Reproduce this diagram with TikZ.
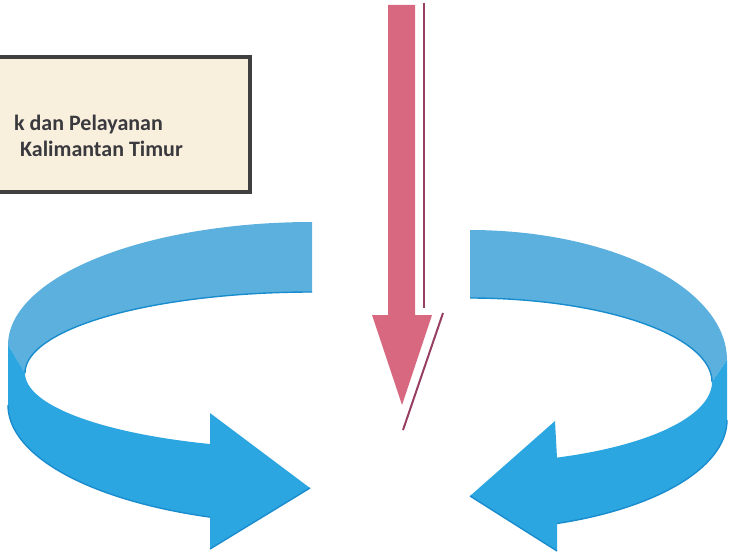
\documentclass[tikz,border=0pt]{standalone}
\usepackage{fontspec}
\setmainfont{Carlito}
\begin{document}
\begin{tikzpicture}[x=1pt,y=-1pt,
  boxstyle/.style={draw={rgb,255:red,64;green,64;blue,64},line width=3.5pt,fill={rgb,255:red,248;green,239;blue,221},minimum width=262pt,minimum height=135pt,inner sep=0pt},
  boxtext/.style={font=\fontsize{22}{24}\selectfont\bfseries,text={rgb,255:red,58;green,58;blue,62},inner sep=0pt},
  pinkfill/.style={fill={rgb,255:red,215;green,104;blue,128}},
  pinkline/.style={draw={rgb,255:red,150;green,62;blue,100},line width=1.6pt},
  backband/.style={fill={rgb,255:red,92;green,176;blue,222}},
  frontband/.style={fill={rgb,255:red,44;green,166;blue,224}},
  rimline/.style={draw={rgb,255:red,25;green,140;blue,205},line width=1.4pt}
]
\useasboundingbox (0,0) rectangle (730,553);
\clip (0,0) rectangle (730,553);

% text box
\node[boxstyle] (box) at (119,124.5) {};
\node[boxtext,anchor=base east] (line1) at (163,131) {k dan Pelayanan};
\node[boxtext,anchor=base east] (line2) at (183,157) {Kalimantan Timur};

% red downward arrow
\fill[pinkfill] (388,5) -- (415,5) -- (415,315) -- (432,315) -- (402,405) -- (372,315) -- (388,315) -- cycle;
\coordinate (thinA) at (424,3);
\coordinate (thinB) at (424,308);
\coordinate (diagA) at (443,313);
\coordinate (diagB) at (403,430);
\draw[pinkline] (thinA) -- (thinB);
\draw[pinkline,line width=2pt] (diagA) -- (diagB);

% left ribbon arrow: back band
\fill[backband] plot[domain=-90:-180,samples=50,variable=\t] ({312+304*cos(\t)},{345+123*sin(\t)})
  -- (25,373) -- plot[domain=-180:-90,samples=50,variable=\t] ({312+287*cos(\t)},{373+81*sin(\t)}) -- cycle;
\draw[rimline] plot[domain=-180:-90,samples=50,variable=\t] ({312+287*cos(\t)},{373+81*sin(\t)});
% left ribbon arrow: front band with head
\fill[frontband] (8,345) -- (8,405) -- plot[domain=180:109.6,samples=50,variable=\t] ({312+304*cos(\t)},{405+119*sin(\t)})
  -- (210,549) -- (310,488) -- (210,413) -- (210,444)
  -- plot[domain=110.8:180,samples=50,variable=\t] ({312+287*cos(\t)},{373+76*sin(\t)}) -- cycle;
\draw[rimline] plot[domain=180:109.6,samples=50,variable=\t] ({312+304*cos(\t)},{405+119*sin(\t)});
\draw[rimline] (210,549) -- (310,488);

% right ribbon arrow: back band
\fill[backband] plot[domain=-90:0,samples=50,variable=\t] ({470+257*cos(\t)},{360+130*sin(\t)})
  -- (712,382) -- plot[domain=0:-90,samples=50,variable=\t] ({470+242*cos(\t)},{382+84*sin(\t)}) -- cycle;
\draw[rimline] plot[domain=0:-90,samples=50,variable=\t] ({470+242*cos(\t)},{382+84*sin(\t)});
% right ribbon arrow: front band with head
\fill[frontband] (727,360) -- (727,420) -- plot[domain=0:70.2,samples=50,variable=\t] ({470+257*cos(\t)},{420+110*sin(\t)})
  -- (557,551) -- (470,496) -- (555,421) -- (557,458)
  -- plot[domain=68.9:0,samples=50,variable=\t] ({470+242*cos(\t)},{382+81*sin(\t)}) -- cycle;
\draw[rimline] plot[domain=0:70.2,samples=50,variable=\t] ({470+257*cos(\t)},{420+110*sin(\t)});
\draw[rimline] (557,551) -- (470,496);
\end{tikzpicture}
\end{document}
